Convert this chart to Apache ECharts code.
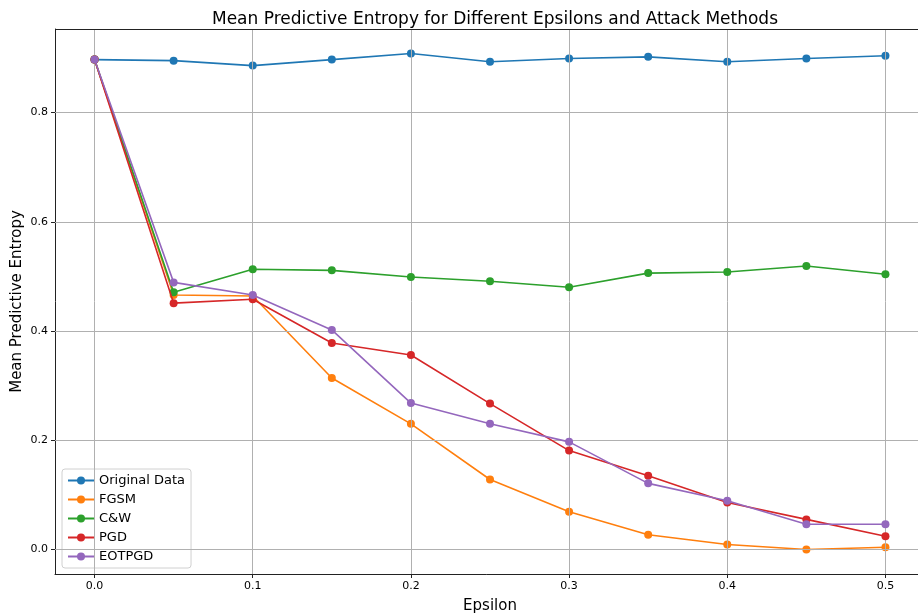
<!DOCTYPE html>
<html>
<head>
<meta charset="utf-8">
<script src="https://cdn.jsdelivr.net/npm/echarts@6/dist/echarts.min.js"></script>
<style>html,body{margin:0;padding:0;background:#fff}#c{width:918px;height:616px}</style>
</head>
<body>
<div id="c"></div>
<script>
const epsilons = [0.0, 0.05, 0.1, 0.15, 0.2, 0.25, 0.3, 0.35, 0.4, 0.45, 0.5];
const originalData = [0.897, 0.895, 0.886, 0.897, 0.908, 0.893, 0.899, 0.902, 0.893, 0.899, 0.904];
const fgsm = [0.897, 0.466, 0.464, 0.314, 0.230, 0.128, 0.069, 0.027, 0.009, 0.0, 0.004];
const cw = [0.897, 0.471, 0.513, 0.511, 0.499, 0.491, 0.480, 0.506, 0.508, 0.519, 0.504];
const pgd = [0.897, 0.451, 0.458, 0.378, 0.356, 0.267, 0.181, 0.135, 0.086, 0.055, 0.024];
const eotpgd = [0.897, 0.489, 0.466, 0.402, 0.268, 0.230, 0.197, 0.121, 0.089, 0.046, 0.046];
const xTicks = [0.0, 0.1, 0.2, 0.3, 0.4, 0.5];
const yTicks = [0.0, 0.2, 0.4, 0.6, 0.8];
const seriesNames = ['Original Data', 'FGSM', 'C&W', 'PGD', 'EOTPGD'];
const colors = ['#1f77b4', '#ff7f0e', '#2ca02c', '#d62728', '#9467bd'];
const allSeries = [originalData, fgsm, cw, pgd, eotpgd];

const font = 'DejaVu Sans';
const chart = echarts.init(document.getElementById('c'), null, {renderer: 'canvas'});

const series = allSeries.map((vals, i) => ({
  name: seriesNames[i],
  type: 'line',
  data: epsilons.map((e, j) => [e, vals[j]]),
  symbol: 'circle',
  symbolSize: 8,
  showSymbol: true,
  lineStyle: {width: 1.6, color: colors[i]},
  itemStyle: {color: colors[i]},
  emphasis: {disabled: true},
  animation: false,
  z: 3 + i
}));

// grid lines
series.push({
  type: 'line', data: [], silent: true, animation: false,
  markLine: {
    silent: true, symbol: 'none', label: {show: false}, animation: false,
    lineStyle: {color: '#b0b0b0', width: 1, type: 'solid'},
    data: xTicks.map(v => ({xAxis: v})).concat(yTicks.map(v => ({yAxis: v})))
  },
  z: 1
});

chart.setOption({
  backgroundColor: '#fff',
  animation: false,
  color: colors,
  title: {
    text: 'Mean Predictive Entropy for Different Epsilons and Attack Methods',
    left: 490, top: 6, textAlign: 'center',
    textStyle: {fontFamily: font, fontSize: 17, fontWeight: 'normal', color: '#000'}
  },
  grid: {left: 55, top: 29, width: 870, height: 545, containLabel: false, outerBoundsMode: 'none', show: false},
  legend: {
    orient: 'vertical', left: 62, top: 469,
    itemWidth: 26, itemHeight: 10, itemGap: 4,
    data: seriesNames,
    textStyle: {fontFamily: font, fontSize: 13, color: '#000', lineHeight: 15},
    backgroundColor: 'rgba(255,255,255,0.8)',
    borderColor: '#d0d0d0', borderWidth: 1, borderRadius: 3,
    padding: [4, 6, 4, 5]
  },
  xAxis: {
    type: 'value', min: -0.025, max: 0.525,
    name: 'Epsilon', nameLocation: 'middle', nameGap: 25,
    nameTextStyle: {fontFamily: font, fontSize: 15, color: '#000'},
    axisLine: {show: true, onZero: false, lineStyle: {color: '#222', width: 1}},
    axisTick: {show: true, customValues: xTicks, length: 4, lineStyle: {color: '#222'}},
    axisLabel: {customValues: xTicks, fontFamily: font, fontSize: 11, color: '#000', margin: 7,
      formatter: v => v.toFixed(1)},
    splitLine: {show: false}
  },
  yAxis: {
    type: 'value', min: -0.045, max: 0.953,
    name: 'Mean Predictive Entropy', nameLocation: 'middle', nameGap: 30, nameMoveOverlap: false,
    nameTextStyle: {fontFamily: font, fontSize: 15, color: '#000'},
    axisLine: {show: true, onZero: false, lineStyle: {color: '#222', width: 1}},
    axisTick: {show: true, customValues: yTicks, length: 4, lineStyle: {color: '#222'}},
    axisLabel: {customValues: yTicks, fontFamily: font, fontSize: 11, color: '#000', margin: 7,
      formatter: v => v.toFixed(1)},
    splitLine: {show: false}
  },
  graphic: [{
    type: 'line', silent: true, z: 10,
    shape: {x1: 55, y1: 29.5, x2: 925, y2: 29.5},
    style: {stroke: '#222', lineWidth: 1}
  }],
  series: series
});
</script>
</body>
</html>
